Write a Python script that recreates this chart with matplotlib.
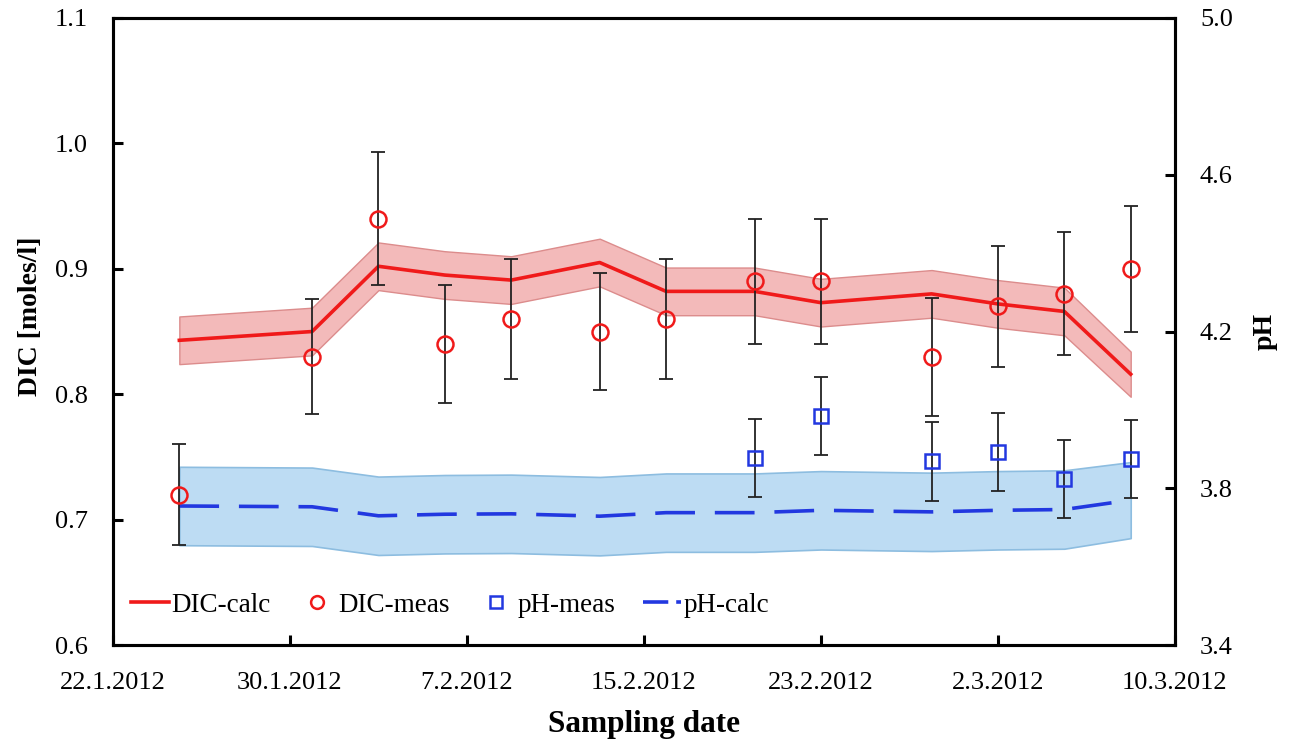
import matplotlib
matplotlib.use('Agg')
import matplotlib.pyplot as plt
from matplotlib.lines import Line2D
from datetime import datetime

plt.rcParams['font.family'] = ['Liberation Serif', 'DejaVu Serif']

# ---------------- data ----------------
dates = ['25.1.2012', '31.1.2012', '3.2.2012', '6.2.2012', '9.2.2012', '13.2.2012',
         '16.2.2012', '20.2.2012', '23.2.2012', '28.2.2012', '2.3.2012', '5.3.2012', '8.3.2012']
dic_calc = [0.843, 0.850, 0.902, 0.895, 0.891, 0.905, 0.882, 0.882, 0.873, 0.880, 0.872, 0.866, 0.816]
dic_calc_unc = [0.019, 0.019, 0.019, 0.019, 0.019, 0.019, 0.019, 0.019, 0.019, 0.019, 0.019, 0.019, 0.018]
dic_meas = [0.72, 0.83, 0.94, 0.84, 0.86, 0.85, 0.86, 0.89, 0.89, 0.83, 0.87, 0.88, 0.90]
dic_meas_err = [0.040, 0.046, 0.053, 0.047, 0.048, 0.047, 0.048, 0.050, 0.050, 0.047, 0.048, 0.049, 0.050]

ph_calc = [3.755, 3.753, 3.730, 3.734, 3.735, 3.729, 3.738, 3.738, 3.744, 3.740, 3.744, 3.746, 3.770]
ph_calc_unc = [0.10, 0.10, 0.10, 0.10, 0.10, 0.10, 0.10, 0.10, 0.10, 0.10, 0.10, 0.10, 0.097]
ph_dates = ['20.2.2012', '23.2.2012', '28.2.2012', '2.3.2012', '5.3.2012', '8.3.2012']
ph_meas = [3.877, 3.984, 3.869, 3.892, 3.824, 3.875]
ph_meas_err = [0.10, 0.10, 0.10, 0.10, 0.10, 0.10]

tick_labels = ['22.1.2012', '30.1.2012', '7.2.2012', '15.2.2012', '23.2.2012', '2.3.2012', '10.3.2012']
dic_ticks = [0.6, 0.7, 0.8, 0.9, 1.0, 1.1]
ph_ticks = [3.4, 3.8, 4.2, 4.6, 5.0]


def to_dt(s):
    return datetime.strptime(s, '%d.%m.%Y')


x = [to_dt(d) for d in dates]
xph = [to_dt(d) for d in ph_dates]
xt = [to_dt(d) for d in tick_labels]

# ---------------- figure ----------------
fig = plt.figure(figsize=(12.94, 7.45), dpi=100)
ax = fig.add_axes([0.0873, 0.134, 0.8207, 0.842])
ax2 = ax.twinx()
ax.set_zorder(ax2.get_zorder() + 1)
ax.patch.set_visible(False)

red = '#f01a1a'
blue = '#2238e0'

# pH (right axis)
ph_lo = [v - u for v, u in zip(ph_calc, ph_calc_unc)]
ph_hi = [v + u for v, u in zip(ph_calc, ph_calc_unc)]
ax2.fill_between(x, ph_lo, ph_hi, facecolor='#bddcf3', edgecolor='#8dbde0', linewidth=1.2)
ph_line, = ax2.plot(x, ph_calc, color=blue, lw=2.6, dashes=(11, 5.5), label='pH-calc')
ax2.errorbar(xph, ph_meas, yerr=ph_meas_err, fmt='none', ecolor='#222222',
             elinewidth=1.3, capsize=5, capthick=1.3)
ph_pts, = ax2.plot(xph, ph_meas, ls='none', marker='s', ms=10.5, mfc='none',
                   mec=blue, mew=1.8, label='pH-meas')

# DIC (left axis)
dic_lo = [v - u for v, u in zip(dic_calc, dic_calc_unc)]
dic_hi = [v + u for v, u in zip(dic_calc, dic_calc_unc)]
ax.fill_between(x, dic_lo, dic_hi, facecolor='#f3baba', edgecolor='#dc8c8c', linewidth=1.0)
dic_line, = ax.plot(x, dic_calc, color=red, lw=2.6, label='DIC-calc')
ax.errorbar(x, dic_meas, yerr=dic_meas_err, fmt='none', ecolor='#222222',
            elinewidth=1.3, capsize=5, capthick=1.3)
dic_pts, = ax.plot(x, dic_meas, ls='none', marker='o', ms=11.5, mfc='none',
                   mec=red, mew=1.8, label='DIC-meas')

# axes limits / ticks
ax.set_xlim(xt[0], xt[-1])
ax.set_ylim(0.6, 1.1)
ax2.set_ylim(3.4, 5.0)
ax.set_xticks(xt)
ax.set_xticklabels(tick_labels)
ax.set_yticks(dic_ticks)
ax.set_yticklabels(['%.1f' % v for v in dic_ticks])
ax2.set_yticks(ph_ticks)
ax2.set_yticklabels(['%.1f' % v for v in ph_ticks])

for a in (ax, ax2):
    for s in a.spines.values():
        s.set_linewidth(2.2)
        s.set_color('black')
ax.tick_params(axis='x', direction='in', length=7, width=2.2, labelsize=19, pad=19)
ax.tick_params(axis='y', direction='in', length=7, width=2.2, labelsize=19, pad=18)
ax2.tick_params(axis='y', direction='in', length=7, width=2.2, labelsize=19, pad=18)

ax.set_xlabel('Sampling date', fontsize=22.5, fontweight='bold', labelpad=12)
ax.set_ylabel('DIC [moles/l]', fontsize=20, fontweight='bold')
ax.yaxis.set_label_coords(-0.066, 0.525)
ax2.set_ylabel('pH', fontsize=20, fontweight='bold', labelpad=14)

# legend handle for pH-calc shows a long dash and a short dash like the reference
ph_line_handle = Line2D([], [], color=blue, lw=2.6, dashes=(7, 2.2))
leg = ax.legend([dic_line, dic_pts, ph_pts, ph_line_handle], ['DIC-calc', 'DIC-meas', 'pH-meas', 'pH-calc'],
                loc='center left', bbox_to_anchor=(0.017, 0.064), ncol=4, frameon=False,
                fontsize=19.5, handlelength=1.4, handletextpad=0.1, columnspacing=1.0,
                borderpad=0, borderaxespad=0, markerscale=0.8)

fig.savefig('out.png', dpi=100)
